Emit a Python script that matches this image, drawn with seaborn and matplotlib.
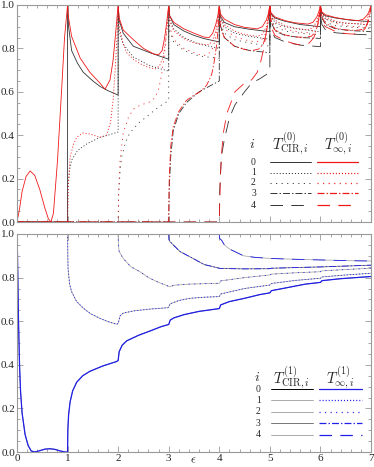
import numpy as np
import pandas as pd
import seaborn as sns
import matplotlib.pyplot as plt
from matplotlib.ticker import MultipleLocator, FormatStrFormatter

sns.set_style('ticks')
plt.rcParams['font.family'] = ['Liberation Serif', 'DejaVu Serif']
plt.rcParams['mathtext.fontset'] = 'cm'
plt.rcParams['lines.scale_dashes'] = False

# ---- top panel: T^(0) curves, CIR (black) and infinite (red), i = 0..4 ----
cir0_x = [0, 1, 1, 1.02, 1.08, 1.2, 1.31, 1.5, 1.64, 1.8, 2,
          2, 2.02, 2.1, 2.3, 2.63, 3,
          3, 3.02, 3.1, 3.3, 3.5, 3.7, 4,
          4, 4.02, 4.1, 4.3, 4.6, 5,
          5, 5.02, 5.1, 5.3, 5.6, 6,
          6, 6.02, 6.1, 6.3, 6.6, 7]
cir0_y = [0, 0, 1, 0.9, 0.79, 0.73, 0.69, 0.65, 0.625, 0.605, 0.585,
          1, 0.93, 0.87, 0.81, 0.78, 0.75,
          1, 0.95, 0.91, 0.88, 0.86, 0.845, 0.83,
          1, 0.95, 0.92, 0.9, 0.888, 0.877,
          1, 0.96, 0.94, 0.925, 0.91, 0.90,
          1, 0.965, 0.95, 0.94, 0.93, 0.923]

cir1_x = [0, 1, 1.01, 1.04, 1.08, 1.2, 1.38, 1.64, 1.8, 2,
          2, 2.02, 2.1, 2.3, 2.63, 3,
          3, 3.02, 3.1, 3.3, 3.6, 4,
          4, 4.02, 4.1, 4.3, 4.6, 5,
          5, 5.02, 5.1, 5.3, 5.6, 6,
          6, 6.02, 6.1, 6.3, 6.6, 7]
cir1_y = [0, 0, 0.16, 0.24, 0.285, 0.33, 0.36, 0.39, 0.40, 0.415,
          0.95, 0.88, 0.82, 0.76, 0.72, 0.695,
          0.97, 0.93, 0.89, 0.85, 0.82, 0.80,
          0.98, 0.94, 0.9, 0.87, 0.855, 0.842,
          0.98, 0.95, 0.92, 0.9, 0.888, 0.877,
          0.99, 0.96, 0.935, 0.92, 0.915, 0.908]

cir2_x = [0, 2, 2.01, 2.04, 2.07, 2.15, 2.23, 2.4, 2.56, 2.8, 3,
          3, 3.02, 3.1, 3.3, 3.6, 4,
          4, 4.03, 4.1, 4.3, 4.6, 5,
          5, 5.03, 5.1, 5.3, 5.6, 6,
          6, 6.03, 6.1, 6.3, 6.6, 7]
cir2_y = [0, 0, 0.12, 0.24, 0.30, 0.37, 0.41, 0.455, 0.485, 0.53, 0.56,
          0.93, 0.88, 0.83, 0.79, 0.765, 0.754,
          0.96, 0.91, 0.87, 0.84, 0.825, 0.81,
          0.97, 0.93, 0.9, 0.88, 0.87, 0.862,
          0.98, 0.95, 0.92, 0.905, 0.898, 0.892]

cir3_x = [0, 3, 3.01, 3.04, 3.09, 3.2, 3.35, 3.6, 3.8, 4,
          4, 4.03, 4.1, 4.3, 4.6, 5,
          5, 5.03, 5.1, 5.3, 5.6, 6,
          6, 6.03, 6.1, 6.3, 6.6, 7]
cir3_y = [0, 0, 0.15, 0.3, 0.42, 0.5, 0.55, 0.6, 0.625, 0.65,
          0.95, 0.9, 0.85, 0.81, 0.79, 0.78,
          0.96, 0.92, 0.88, 0.86, 0.85, 0.846,
          0.97, 0.94, 0.91, 0.89, 0.882, 0.877]

cir4_x = [0, 4, 4.01, 4.04, 4.1, 4.2, 4.31, 4.5, 4.64, 4.8, 5,
          5, 5.03, 5.1, 5.3, 5.6, 6,
          6, 6.03, 6.1, 6.3, 6.6, 7]
cir4_y = [0, 0, 0.15, 0.3, 0.38, 0.48, 0.54, 0.6, 0.64, 0.66, 0.69,
          0.93, 0.88, 0.85, 0.83, 0.815, 0.808,
          0.95, 0.91, 0.885, 0.872, 0.866, 0.862]

inf0_x = [0, 0.05, 0.1, 0.18, 0.26, 0.35, 0.45, 0.55, 0.62, 0.67, 0.72, 0.8, 0.88, 0.94, 1,
          1.02, 1.08, 1.25, 1.44, 1.64, 1.74, 1.84, 1.9, 1.95, 2,
          2.02, 2.1, 2.3, 2.5, 2.7, 2.8, 2.87, 2.92, 2.96, 3,
          3.02, 3.1, 3.3, 3.5, 3.7, 3.8, 3.87, 3.93, 3.97, 4,
          4.02, 4.1, 4.3, 4.5, 4.75, 4.85, 4.93, 4.97, 5,
          5.02, 5.1, 5.3, 5.5, 5.75, 5.85, 5.93, 5.97, 6,
          6.02, 6.1, 6.3, 6.5, 6.75, 6.85, 6.93, 6.97, 7]
inf0_y = [0, 0.06, 0.14, 0.21, 0.235, 0.215, 0.15, 0.065, 0.015, 0, 0.04, 0.28, 0.6, 0.85, 1,
          0.94, 0.855, 0.755, 0.69, 0.64, 0.612, 0.655, 0.745, 0.87, 1,
          0.94, 0.885, 0.84, 0.8, 0.775, 0.77, 0.79, 0.85, 0.92, 1,
          0.95, 0.92, 0.89, 0.87, 0.852, 0.85, 0.87, 0.91, 0.95, 1,
          0.96, 0.935, 0.91, 0.897, 0.89, 0.9, 0.93, 0.96, 1,
          0.965, 0.945, 0.928, 0.918, 0.912, 0.92, 0.945, 0.97, 1,
          0.97, 0.955, 0.942, 0.934, 0.928, 0.935, 0.955, 0.975, 1]

inf1_x = [0, 1, 1.01, 1.05, 1.12, 1.18, 1.3, 1.45, 1.64, 1.77, 1.85, 1.9, 1.94, 1.97, 2,
          2.02, 2.1, 2.17, 2.3, 2.43, 2.6, 2.73, 2.82, 2.89, 2.94, 2.97, 3,
          3.02, 3.1, 3.3, 3.5, 3.7, 3.8, 3.88, 3.94, 3.98, 4,
          4.02, 4.1, 4.3, 4.5, 4.75, 4.85, 4.93, 4.97, 5,
          5.02, 5.1, 5.3, 5.5, 5.75, 5.85, 5.93, 5.97, 6,
          6.02, 6.1, 6.3, 6.5, 6.75, 6.85, 6.93, 6.97, 7]
inf1_y = [0, 0, 0.15, 0.30, 0.36, 0.39, 0.41, 0.405, 0.39, 0.40, 0.46, 0.56, 0.70, 0.82, 1,
          0.9, 0.82, 0.78, 0.75, 0.73, 0.712, 0.705, 0.72, 0.76, 0.84, 0.9, 1,
          0.93, 0.88, 0.845, 0.825, 0.818, 0.818, 0.84, 0.89, 0.95, 1,
          0.95, 0.91, 0.88, 0.865, 0.855, 0.865, 0.9, 0.94, 1,
          0.96, 0.93, 0.905, 0.893, 0.886, 0.895, 0.925, 0.955, 1,
          0.97, 0.945, 0.925, 0.916, 0.914, 0.92, 0.94, 0.965, 1]

inf2_x = [0, 2, 2.01, 2.04, 2.1, 2.2, 2.3, 2.45, 2.6, 2.72, 2.8, 2.86, 2.92, 2.96, 3,
          3.02, 3.1, 3.3, 3.5, 3.65, 3.75, 3.85, 3.92, 3.97, 4,
          4.02, 4.1, 4.3, 4.5, 4.7, 4.82, 4.9, 4.95, 4.98, 5,
          5.02, 5.1, 5.3, 5.5, 5.72, 5.84, 5.92, 5.97, 6,
          6.02, 6.1, 6.3, 6.5, 6.72, 6.84, 6.92, 6.97, 7]
inf2_y = [0, 0, 0.15, 0.29, 0.41, 0.48, 0.52, 0.54, 0.55, 0.57, 0.61, 0.68, 0.78, 0.88, 1,
          0.9, 0.84, 0.8, 0.78, 0.768, 0.768, 0.79, 0.84, 0.92, 1,
          0.93, 0.89, 0.855, 0.84, 0.83, 0.835, 0.86, 0.9, 0.94, 1,
          0.95, 0.915, 0.89, 0.878, 0.872, 0.88, 0.905, 0.945, 1,
          0.965, 0.935, 0.915, 0.905, 0.9, 0.905, 0.925, 0.955, 1]

inf3_x = [0, 3, 3.01, 3.04, 3.09, 3.2, 3.35, 3.5, 3.62, 3.75, 3.85, 3.9, 3.95, 3.98, 4,
          4.02, 4.1, 4.3, 4.5, 4.65, 4.78, 4.87, 4.93, 4.97, 5,
          5.02, 5.1, 5.3, 5.5, 5.7, 5.82, 5.9, 5.95, 5.98, 6,
          6.02, 6.1, 6.3, 6.5, 6.7, 6.82, 6.9, 6.95, 6.98, 7]
inf3_y = [0, 0, 0.2, 0.35, 0.44, 0.51, 0.56, 0.585, 0.6, 0.63, 0.68, 0.74, 0.82, 0.9, 1,
          0.9, 0.85, 0.81, 0.795, 0.79, 0.797, 0.82, 0.87, 0.93, 1,
          0.93, 0.885, 0.862, 0.853, 0.851, 0.856, 0.875, 0.91, 0.95, 1,
          0.95, 0.915, 0.893, 0.885, 0.883, 0.887, 0.9, 0.93, 0.96, 1]

inf4_x = [0, 4, 4.02, 4.05, 4.08, 4.15, 4.31, 4.5, 4.64, 4.75, 4.82, 4.87, 4.92, 4.97, 5,
          5.02, 5.1, 5.3, 5.5, 5.65, 5.78, 5.87, 5.93, 5.97, 6,
          6.02, 6.1, 6.3, 6.5, 6.65, 6.78, 6.88, 6.94, 6.98, 7]
inf4_y = [0, 0, 0.2, 0.33, 0.41, 0.5, 0.6, 0.64, 0.655, 0.69, 0.74, 0.79, 0.86, 0.94, 1,
          0.9, 0.86, 0.835, 0.82, 0.815, 0.825, 0.85, 0.89, 0.94, 1,
          0.92, 0.9, 0.878, 0.868, 0.866, 0.872, 0.89, 0.92, 0.96, 1]

# ---- bottom panel: T^(1) curves (CIR gray, infinite blue), i = 0..4 ----
t1_0_x = [0, 0.01, 0.03, 0.05, 0.07, 0.1, 0.16, 0.22, 0.28, 0.35, 0.45, 0.55, 0.65, 0.75, 0.85, 0.95, 1,
          1.005, 1.02, 1.05, 1.1, 1.18, 1.3, 1.44, 1.7, 1.97,
          2, 2.02, 2.08, 2.17, 2.4, 2.63, 2.85, 3,
          3.03, 3.1, 3.3, 3.6, 3.85, 4,
          4.03, 4.2, 4.5, 4.8, 5,
          5.03, 5.3, 5.7, 6,
          6.03, 6.4, 7]
t1_0_y = [1, 0.9, 0.6, 0.4, 0.28, 0.18, 0.08, 0.03, 0.005, 0, 0.006, 0.013, 0.015, 0.012, 0.005, 0, 0,
          0.1, 0.17, 0.23, 0.28, 0.32, 0.35, 0.37, 0.395, 0.415,
          0.42, 0.46, 0.49, 0.51, 0.535, 0.555, 0.575, 0.585,
          0.605, 0.615, 0.63, 0.645, 0.653, 0.658,
          0.675, 0.69, 0.705, 0.722, 0.73,
          0.74, 0.752, 0.77, 0.778,
          0.786, 0.795, 0.805]

t1_1_x = [1, 1.005, 1.01, 1.04, 1.08, 1.18, 1.31, 1.45, 1.64, 1.8, 1.97,
          2, 2.04, 2.1, 2.3, 2.6, 2.99,
          3.03, 3.2, 3.42, 3.7, 4,
          4.03, 4.5, 5, 5.03, 5.5, 6, 6.03, 6.5, 7]
t1_1_y = [1, 0.9, 0.84, 0.77, 0.735, 0.69, 0.66, 0.635, 0.613, 0.598, 0.586,
          0.59, 0.625, 0.637, 0.647, 0.655, 0.662,
          0.68, 0.695, 0.705, 0.71, 0.713,
          0.725, 0.75, 0.766, 0.773, 0.787, 0.797, 0.803, 0.812, 0.82]

t1_2_x = [2, 2.005, 2.02, 2.1, 2.25, 2.43, 2.6, 2.8, 2.99,
          3.03, 3.1, 3.4, 3.7, 4,
          4.03, 4.5, 5, 5.03, 5.5, 6, 6.03, 6.5, 7]
t1_2_y = [1, 0.95, 0.92, 0.888, 0.85, 0.827, 0.8, 0.778, 0.761,
          0.758, 0.765, 0.77, 0.772, 0.774,
          0.785, 0.8, 0.812, 0.816, 0.822, 0.827, 0.831, 0.837, 0.843]

t1_3_x = [3, 3.005, 3.02, 3.09, 3.22, 3.48, 3.7, 4,
          4.03, 4.5, 5, 5.03, 5.5, 6, 6.5, 7]
t1_3_y = [1, 0.975, 0.966, 0.95, 0.92, 0.888, 0.86, 0.843,
          0.842, 0.84, 0.841, 0.843, 0.846, 0.849, 0.853, 0.857]

t1_4_x = [4, 4.005, 4.05, 4.1, 4.21, 4.48, 4.7, 5, 5.5, 6, 6.5, 7]
t1_4_y = [1, 0.98, 0.97, 0.95, 0.93, 0.90, 0.893, 0.888, 0.884, 0.881, 0.878, 0.876]

top_cir = [(cir0_x, cir0_y), (cir1_x, cir1_y), (cir2_x, cir2_y), (cir3_x, cir3_y), (cir4_x, cir4_y)]
top_inf = [(inf0_x, inf0_y), (inf1_x, inf1_y), (inf2_x, inf2_y), (inf3_x, inf3_y), (inf4_x, inf4_y)]
bot_curves = [(t1_0_x, t1_0_y), (t1_1_x, t1_1_y), (t1_2_x, t1_2_y), (t1_3_x, t1_3_y), (t1_4_x, t1_4_y)]
index_labels = ['0', '1', '2', '3', '4']

styles = ['-', (0, (0.8, 1.4)), (0, (0.8, 3.2)), (0, (5, 1.5, 1, 1.5)), (0, (9, 6))]
black = '#333333'
red = '#f01818'
blue = '#2020e8'
grays = ['#000000', '#aaaaaa', '#aaaaaa', '#777777', '#aaaaaa']


def line(ax, x, y, color, ls, lw):
    df = pd.DataFrame({'x': x, 'y': y})
    sns.lineplot(data=df, x='x', y='y', sort=False, estimator=None, color=color,
                 linestyle=ls, lw=lw, ax=ax)


def style_axes(ax, bottom_labels):
    ax.set_xlim(0, 7)
    ax.set_ylim(0, 1)
    ax.xaxis.set_major_locator(MultipleLocator(1))
    ax.xaxis.set_minor_locator(MultipleLocator(0.2))
    ax.yaxis.set_major_locator(MultipleLocator(0.2))
    ax.yaxis.set_minor_locator(MultipleLocator(0.05))
    ax.yaxis.set_major_formatter(FormatStrFormatter('%.1f'))
    ax.tick_params(which='both', direction='in', top=True, right=True,
                   color='#999999', width=0.6, labelsize=8, pad=1.5,
                   labelbottom=bottom_labels)
    ax.tick_params(which='major', length=4)
    ax.tick_params(which='minor', length=2)
    for s in ax.spines.values():
        s.set_color('#999999')
        s.set_linewidth(0.8)
    ax.set_ylabel('')
    ax.set_xlabel('')


def key(ax, sup, left_colors, right_colors, hy, rows_y, xi, xc, xr, cl, rl):
    ax.text(xi, hy, '$i$', transform=ax.transAxes, fontsize=10, ha='center', va='center')
    ax.text(xc, hy, r'$T^{(%d)}_{\mathrm{CIR},i}$' % sup, transform=ax.transAxes,
            fontsize=10.5, ha='center', va='center')
    ax.text(xr, hy, r'$T^{(%d)}_{\infty,i}$' % sup, transform=ax.transAxes,
            fontsize=10.5, ha='center', va='center')
    for k, yy in enumerate(rows_y):
        ax.text(xi + 0.005, yy, index_labels[k], transform=ax.transAxes,
                fontsize=7, ha='center', va='center')
        ls_left = '-' if sup == 1 else styles[k]
        ax.plot(cl, [yy, yy], transform=ax.transAxes, color=left_colors[k], ls=ls_left, lw=0.7)
        ax.plot(rl, [yy, yy], transform=ax.transAxes, color=right_colors[k], ls=styles[k], lw=0.9)


fig = plt.figure(figsize=(3.74, 4.67), dpi=100)
ax1 = fig.add_axes([17 / 374, 245 / 467, 354 / 374, 217 / 467])
ax2 = fig.add_axes([17 / 374, 15 / 467, 354 / 374, 218 / 467])

for k, (x, y) in enumerate(top_cir):
    line(ax1, x, y, black, styles[k], 0.6)
for k, (x, y) in enumerate(top_inf):
    line(ax1, x, y, red, styles[k], 0.6)

for k, (x, y) in enumerate(bot_curves):
    line(ax2, x, y, grays[k] if k else '#888888', '-', 0.6)
for k, (x, y) in enumerate(bot_curves):
    line(ax2, x, y, blue, styles[k], 0.9 if k == 0 else 0.6)

style_axes(ax1, False)
style_axes(ax2, True)
ax2.set_xlabel(r'$\epsilon$', fontsize=9, va='center')
ax2.xaxis.set_label_coords(0.497, -0.037)

key(ax1, 0, [black] * 5, [red] * 5, 0.358, [0.275, 0.227, 0.18, 0.132, 0.077],
    0.663, 0.771, 0.908, [0.715, 0.83], [0.847, 0.962])
key(ax2, 1, grays, [blue] * 5, 0.342, [0.287, 0.237, 0.185, 0.132, 0.078],
    0.677, 0.776, 0.912, [0.718, 0.837], [0.853, 0.975])

fig.savefig('out.png', dpi=100)
